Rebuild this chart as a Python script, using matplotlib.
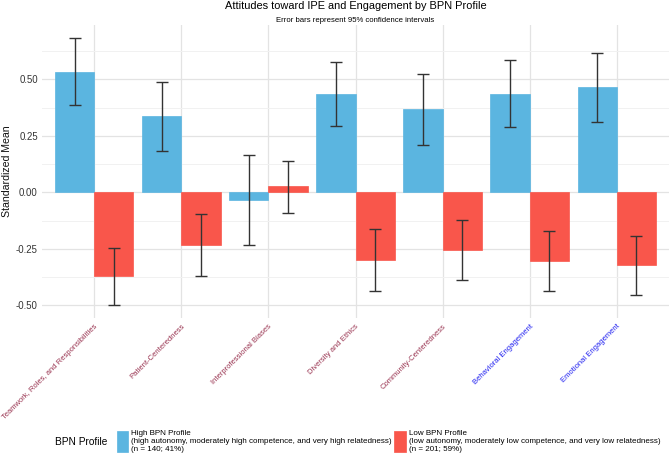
import matplotlib
matplotlib.use("Agg")
import matplotlib.pyplot as plt
import numpy as np

plt.rcParams['font.family'] = ['Liberation Sans', 'DejaVu Sans']

categories = ["Teamwork, Roles, and Responsibilities", "Patient-Centeredness",
              "Interprofessional Biases", "Diversity and Ethics",
              "Community-Centeredness", "Behavioral Engagement", "Emotional Engagement"]
label_colors = ["#993350", "#993350", "#993350", "#993350", "#993350", "#2020F0", "#2020F0"]

high_mean = [0.532, 0.336, -0.034, 0.434, 0.367, 0.437, 0.465]
high_lo   = [0.388, 0.184, -0.235, 0.292, 0.211, 0.288, 0.313]
high_hi   = [0.681, 0.488, 0.167, 0.575, 0.525, 0.586, 0.618]

low_mean = [-0.370, -0.232, 0.027, -0.300, -0.255, -0.302, -0.322]
low_lo   = [-0.497, -0.372, -0.091, -0.438, -0.389, -0.437, -0.453]
low_hi   = [-0.245, -0.094, 0.140, -0.164, -0.121, -0.170, -0.193]

high_label = "High BPN Profile\n(high autonomy, moderately high competence, and very high relatedness)\n(n = 140; 41%)"
low_label = "Low BPN Profile\n(low autonomy, moderately low competence, and very low relatedness)\n(n = 201; 59%)"

blue = "#5BB5E0"
red = "#F9564B"

W, H = 669, 455
fig = plt.figure(figsize=(W/100, H/100), dpi=100)
ax = fig.add_axes([42/W, 1-318/H, (669-42)/W, (318-25)/H])

x = np.arange(len(categories))
bw = 0.45
hm = np.array(high_mean); lm = np.array(low_mean)
b1 = ax.bar(x - bw/2, hm, width=bw, color=blue, edgecolor=blue, linewidth=0.5, zorder=2)
b2 = ax.bar(x + bw/2, lm, width=bw, color=red, edgecolor=red, linewidth=0.5, zorder=2)

ax.errorbar(x - bw/2, hm, yerr=[hm - np.array(high_lo), np.array(high_hi) - hm],
            fmt='none', ecolor='#333333', elinewidth=1.0, capsize=4.5, capthick=1.0, zorder=3)
ax.errorbar(x + bw/2, lm, yerr=[lm - np.array(low_lo), np.array(low_hi) - lm],
            fmt='none', ecolor='#333333', elinewidth=1.0, capsize=4.5, capthick=1.0, zorder=3)

ax.set_xlim(-0.6, len(categories) - 0.4)
ax.set_ylim(-0.556, 0.740)
ax.set_yticks([-0.5, -0.25, 0, 0.25, 0.5])
ax.set_yticklabels(["-0.50", "-0.25", "0.00", "0.25", "0.50"], fontsize=6.9, color="#333333")
ax.set_yticks([-0.375, -0.125, 0.125, 0.375, 0.625], minor=True)
ax.set_xticks(x)
ax.set_xticklabels(categories, rotation=45, ha='right', va='top', rotation_mode='anchor', fontsize=5.5)
for lab, c in zip(ax.get_xticklabels(), label_colors):
    lab.set_color(c)

ax.tick_params(axis='both', which='both', length=0)
ax.tick_params(axis='x', pad=3.5)
ax.tick_params(axis='y', pad=3)
ax.grid(True, which='major', axis='both', color='#E3E3E3', linewidth=0.9, zorder=0)
ax.grid(True, which='minor', axis='y', color='#F1F1F1', linewidth=0.7, zorder=0)
ax.set_axisbelow(True)
for s in ax.spines.values():
    s.set_visible(False)

ax.set_ylabel("Standardized Mean", fontsize=7.6, color="#111111", labelpad=3)

cx = (42 + 669) / 2 / W
fig.text(cx, 1 - 6/H, "Attitudes toward IPE and Engagement by BPN Profile", ha='center', va='center', fontsize=7.9)
fig.text(cx, 1 - 20/H, "Error bars represent 95% confidence intervals", ha='center', va='center', fontsize=5.6)

fig.text(55/W, 1 - 442/H, "BPN Profile", ha='left', va='center', fontsize=7.3)
fig.legend(handles=[b1, b2], labels=[high_label, low_label], loc='center left',
           bbox_to_anchor=(116.5/W, 1 - 441.5/H), ncol=2, frameon=False, fontsize=5.8,
           handlelength=1.45, handleheight=3.6, handletextpad=0.35, columnspacing=0.35,
           borderpad=0, borderaxespad=0)

fig.savefig("out.png", dpi=100)
